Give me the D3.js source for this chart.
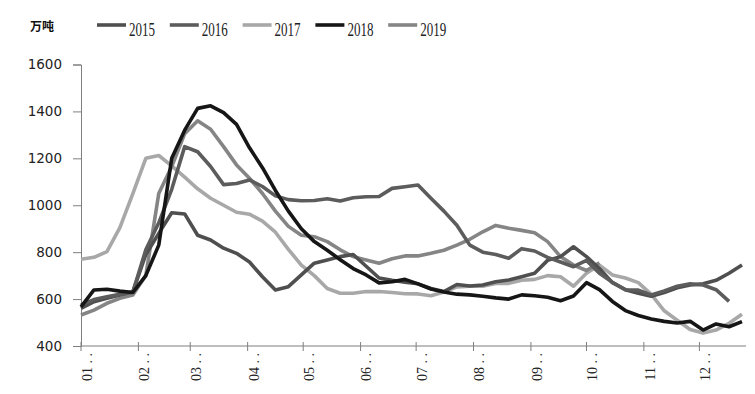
<!DOCTYPE html>
<html>
<head>
<meta charset="utf-8">
<script src="https://cdn.jsdelivr.net/npm/d3@7"></script>
<style>
body{margin:0;background:#fff;}
svg{display:block;}
</style>
</head>
<body>
<script>
// weekly stock, 万吨
var years=["2015","2016","2017","2018","2019"];
var colors=["#4f4f4f","#5c5c5c","#a8a8a8","#161616","#858585"];
var monthLabels=["01","02","03","04","05","06","07","08","09","10","11","12"];
var yTicks=[400,600,800,1000,1200,1400,1600];

var s2015=[560,589,603,617,631,790,880,968,963,872,852,817,795,758,695,639,653,703,753,767,781,790,740,690,680,672,665,645,632,662,656,660,674,681,695,710,765,781,823,781,730,670,640,625,612,628,648,660,665,680,710,745];
var s2016=[575,598,610,620,630,810,925,1068,1250,1228,1165,1088,1093,1108,1080,1040,1024,1019,1020,1028,1018,1032,1036,1037,1072,1079,1086,1030,975,915,830,800,790,774,815,805,778,758,738,765,710,672,640,638,618,635,655,665,660,640,590,null];
var s2017=[770,778,802,905,1050,1200,1212,1168,1120,1070,1030,1000,970,962,932,885,812,745,700,645,625,625,632,632,628,623,622,614,630,652,655,655,667,667,680,684,700,695,655,710,745,703,690,670,620,550,510,470,455,468,497,535];
var s2018=[567,639,642,634,628,700,830,1200,1320,1413,1424,1395,1345,1245,1160,1063,975,900,845,808,768,730,703,669,674,684,665,643,630,621,618,612,605,600,618,614,608,593,613,670,640,590,551,530,515,505,498,505,468,494,482,504];
var s2019=[532,553,582,603,617,700,1050,1165,1305,1360,1324,1250,1172,1115,1050,975,910,872,866,845,810,781,767,753,772,784,784,795,808,830,855,887,914,902,893,883,845,781,745,722,755,null,null,null,null,null,null,null,null,null,null,null];

var seriesValues=[s2015,s2016,s2017,s2018,s2019];

var W=755,H=394;
var svg=d3.select("body").append("svg").attr("width",W).attr("height",H);

var yearStart=new Date(2019,0,1);
var weekDates=d3.range(s2015.length).map(function(i){return d3.timeDay.offset(yearStart,7*i);});

var x=d3.scaleTime()
        .domain([yearStart,weekDates[weekDates.length-1]])
        .range([81,742]);
var y=d3.scaleLinear().domain([400,1600]).range([346,64.5]);

var monthDates=d3.timeMonth.range(yearStart,new Date(2020,0,1));

// y axis
var yAxis=d3.axisLeft(y).tickValues(yTicks).tickFormat(d3.format("d")).tickSize(8).tickPadding(11);
var gy=svg.append("g").attr("transform","translate(81,0)").call(yAxis);
gy.select(".domain").attr("stroke","#7f7f7f");
gy.selectAll(".tick line").attr("stroke","#7f7f7f");
gy.selectAll(".tick text").attr("font-family","DejaVu Sans").attr("font-size",13.5).attr("fill","#222");

// x axis
var gx=svg.append("g").attr("transform","translate(0,346)");
gx.append("line").attr("x1",81).attr("x2",746).attr("y1",0).attr("y2",0).attr("stroke","#7f7f7f");
gx.selectAll("line.tk").data(monthDates).enter().append("line")
  .attr("class","tk")
  .attr("x1",function(d){return x(d);}).attr("x2",function(d){return x(d);})
  .attr("y1",-4).attr("y2",5).attr("stroke","#7f7f7f");
gx.selectAll("text").data(monthDates).enter().append("text")
  .attr("transform",function(d){return "translate("+(x(d)+6)+",7) rotate(-90)";})
  .attr("text-anchor","end")
  .attr("dy","0.35em")
  .attr("font-family","Liberation Serif").attr("font-size",14).attr("fill","#222")
  .text(function(d,i){return monthLabels[i]+" . .";});

// lines
var line=d3.line()
   .defined(function(d){return d!=null;})
   .x(function(d,i){return x(weekDates[i]);})
   .y(function(d){return y(d);});

var order=[2,4,0,1,3];
svg.selectAll("path.series").data(order).enter().append("path")
   .attr("class","series")
   .attr("d",function(k){return line(seriesValues[k]);})
   .attr("fill","none")
   .attr("stroke",function(k){return colors[k];})
   .attr("stroke-width",3.6)
   .attr("stroke-linejoin","round");

// legend
svg.append("text").attr("x",30).attr("y",31)
   .attr("font-family","Noto Sans CJK SC").attr("font-weight","bold").attr("font-size",12)
   .attr("fill","#111").text("万吨");

var lg=svg.selectAll("g.lg").data(years).enter().append("g")
   .attr("class","lg")
   .attr("transform",function(d,i){return "translate("+(97+i*72.8)+",0)";});
lg.append("line").attr("x1",0).attr("x2",29).attr("y1",25).attr("y2",25)
   .attr("stroke",function(d,i){return colors[i];}).attr("stroke-width",3.6);
lg.append("text").attr("x",32).attr("y",35.5)
   .attr("font-family","Liberation Serif").attr("font-size",18.5).attr("fill","#222")
   .attr("textLength",26).attr("lengthAdjust","spacingAndGlyphs")
   .text(function(d){return d;});
</script>
</body>
</html>
